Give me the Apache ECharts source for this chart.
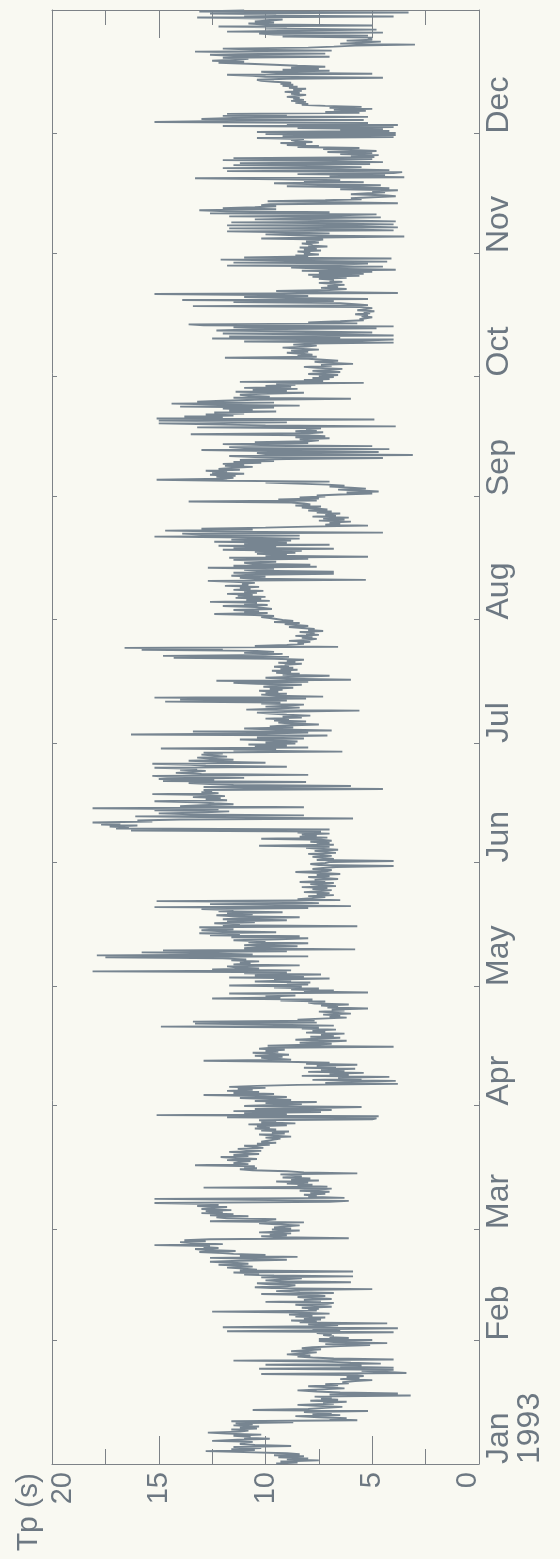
<!DOCTYPE html>
<html>
<head>
<meta charset="utf-8">
<title>Tp (s) 1993</title>
<script src="https://cdn.jsdelivr.net/npm/echarts@6/dist/echarts.min.js"></script>
<style>
  html, body { margin: 0; padding: 0; background: #f9f9f2; }
  #chart { width: 560px; height: 1559px; }
</style>
</head>
<body>
<div id="chart"></div>
<script>
// Peak wave period Tp (s), 1993, roughly 6-hourly samples grouped by month.
const monthNames = ['Jan', 'Feb', 'Mar', 'Apr', 'May', 'Jun', 'Jul', 'Aug', 'Sep', 'Oct', 'Nov', 'Dec'];
const monthStartDays = [0, 31, 59, 90, 120, 151, 181, 212, 243, 273, 304, 334, 365];
const yearLabel = '1993';
const valueAxisName = 'Tp (s)';

const jan = [9.5, 8.5, 9.3, 7.5, 9.0, 8.0, 9.4, 8.2, 9.6, 8.4,
  9.0, 11.0, 12.8, 10.5, 11.6, 10.2, 11.5, 8.8, 10.5, 11.2,
  11.0, 10.6, 12.5, 11.3, 9.8, 11.0, 10.7, 11.5, 10.2, 11.8, 12.7, 11.2,
  10.8, 11.6, 10.4, 11.2, 10.3, 11.5, 10.6, 11.4, 8.7, 11.6,
  5.7, 7.0, 6.2, 7.5, 8.6, 6.5, 7.8, 6.9, 8.2, 5.2, 10.6,
  8.0, 7.2, 6.4, 7.6, 8.5, 6.8, 7.3, 6.2, 7.9, 6.6, 7.4, 6.9, 7.7,
  3.2, 7.0, 3.8, 6.5, 7.6, 8.5, 7.4, 6.3, 7.0, 8.0, 6.6, 7.2, 6.1,
  6.4, 5.8, 5.0, 6.5, 5.6, 6.2, 5.4, 6.0, 10.2, 3.4, 4.3, 5.5, 4.0,
  10.3, 4.0, 6.5, 5.5, 10.0, 4.6, 6.0, 7.2, 11.5, 4.0, 6.8, 7.8, 8.5, 7.9,
  9.0, 8.2, 7.6, 8.8, 8.0, 7.4, 8.3, 7.8, 6.5, 5.1, 7.2, 4.3, 6.8, 7.5];

const feb = [5.0, 7.5, 6.1, 7.0, 6.8,
  7.3, 6.9, 7.6, 4.0, 11.8, 6.5, 7.8, 3.8, 12.0, 7.5, 6.6, 8.0,
  4.3, 8.4, 7.6, 8.8, 7.4, 8.2, 7.2, 8.6, 7.8, 8.9, 7.0, 8.3, 12.5, 7.6, 8.0,
  7.5, 8.3, 6.9, 7.7, 8.6, 7.1, 6.8, 10.0, 7.4, 8.2, 6.9, 7.8, 8.5, 7.2, 7.9, 10.2, 6.8,
  8.4, 9.5, 8.6, 5.0, 9.7, 10.5, 9.0, 8.6, 9.8, 10.4, 6.0, 9.3, 10.0, 9.1, 8.3, 10.2, 5.9, 9.6,
  11.0, 10.3, 11.5, 5.9, 11.2, 10.4, 11.0, 11.8, 10.6, 11.3, 12.2, 10.8, 11.5, 12.6, 11.2,
  9.0, 10.5, 12.6, 8.5, 11.2, 10.0, 11.5,
  12.0, 13.1, 11.4, 12.8, 13.3, 12.2, 12.9,
  12.6, 15.2, 12.0, 13.5, 14.0, 12.8, 13.8,
  12.6, 6.1, 9.4, 10.2, 9.0, 9.8, 8.8, 10.3, 9.2, 8.4, 9.7];

const mar = [8.8, 9.6, 9.0, 8.4, 9.5, 10.3, 8.2, 12.6, 10.0,
  9.5, 11.8, 12.3, 10.8, 12.6, 11.5, 13.0, 12.0, 12.8, 11.6, 13.0, 12.4, 11.8, 13.2, 12.2,
  12.5, 15.2, 7.0, 6.1, 11.0, 15.2, 6.3, 8.0,
  7.6, 8.2, 7.2, 7.9, 7.0, 8.4, 7.5, 6.9,
  12.9, 7.1, 8.5, 7.8, 9.0, 8.0, 9.5, 7.5, 8.8, 7.9, 9.2, 8.3,
  8.6, 9.3, 5.7, 8.2, 9.0,
  10.6, 11.2, 10.4, 11.0, 10.5, 13.3, 10.8, 11.5,
  11.2, 10.7, 11.8, 10.4, 11.4, 12.1, 10.8, 11.5, 10.3, 11.0, 11.7, 10.2,
  10.9, 11.3, 10.1, 10.6, 11.0, 9.8, 10.4, 9.5, 10.2, 9.9, 9.6,
  9.3, 10.0, 8.8, 9.6, 10.3, 9.1, 9.7, 8.9, 10.2, 9.5, 10.5, 9.8,
  10.4, 9.0, 10.8, 8.6, 10.2, 9.5, 10.3, 5.0,
  4.8, 11.8, 4.7, 15.1, 9.0, 11.0, 7.4, 11.5, 6.9, 10.5, 7.8, 5.5, 11.0];

const apr = [11.0, 8.3, 10.0, 7.6, 10.5, 8.8, 9.8, 11.2, 9.0, 10.4,
  12.9, 9.6, 11.5, 10.3, 11.8, 10.6, 11.3, 10.0, 11.7, 10.4,
  8.5, 3.8, 7.2, 6.0, 3.9, 7.8, 5.5, 6.6, 4.2, 8.3, 6.1, 7.0, 5.4, 8.0, 6.3,
  7.4, 5.8, 8.2, 6.7, 7.6, 5.7, 8.1, 7.0,
  9.0, 12.9, 8.8, 9.5, 10.2, 9.2, 10.5, 8.9, 9.8, 10.6, 9.4, 10.0, 9.1, 10.3, 9.7,
  4.0, 9.9, 8.0, 6.9, 8.4, 7.3, 6.2, 8.6, 7.6, 6.5, 7.9, 6.8, 7.4, 6.3, 8.1,
  7.2, 7.8, 6.7, 8.3, 7.5,
  14.9, 6.8, 9.5, 13.3, 7.6, 13.4, 7.7, 8.5,
  7.4, 6.2, 7.0, 6.5, 7.3, 6.0, 6.8, 7.5, 6.3, 6.9, 5.2, 7.1, 6.6, 7.4, 6.1,
  7.7, 8.0, 7.2, 9.3, 7.8,
  12.5, 9.3, 10.0, 8.6, 9.4, 11.7, 5.2, 8.2, 6.8, 8.8, 7.5, 9.6, 8.3];

const may = [11.7, 8.0, 9.0, 7.9, 10.5, 8.8, 9.6,
  7.0, 11.7, 8.2, 10.5, 7.4, 11.0, 9.0,
  18.1, 8.8, 12.5, 10.3, 11.4,
  11.8, 8.4, 11.5, 10.7, 11.2, 10.3, 11.6, 10.9,
  12.0, 17.5, 8.0, 17.9, 10.6,
  12.7, 15.8, 9.0, 14.8, 5.8, 11.0, 10.3, 8.5,
  11.0, 10.2, 8.0, 10.8, 10.0, 11.5, 9.4, 8.0,
  11.6, 8.4, 12.6, 11.2, 13.1, 9.5, 12.0, 13.0, 11.5, 12.4, 13.1, 5.7, 12.0,
  11.2, 12.4, 10.5, 11.8, 9.0, 12.0, 11.0, 8.4, 11.5, 12.3, 10.6, 11.8, 9.2, 12.2, 11.5,
  13.0, 8.0, 15.2, 6.0, 9.5, 12.6, 7.5, 9.0, 15.1, 6.5, 8.5, 7.8,
  7.2, 8.0, 6.8, 7.6, 7.0, 8.2, 7.4, 6.9, 7.8, 7.1, 8.3, 6.7, 7.5, 7.9, 6.8,
  8.4, 7.2, 7.7, 6.6, 7.3, 8.0, 7.0, 7.6, 6.5, 7.4, 8.6, 7.1, 6.9, 7.8, 7.3,
  6.7, 4.0, 7.5, 7.9, 7.2];

const jun = [7.0, 4.0, 7.6, 6.8, 7.3, 7.8, 6.9, 7.4, 8.0, 6.7, 7.2, 7.7,
  6.6, 7.5, 8.1, 7.0, 10.3, 6.8, 7.6, 7.0, 7.9, 6.9, 7.4,
  10.2, 7.1, 8.4, 7.6, 8.3, 7.0, 8.5, 7.4,
  16.3, 7.0, 17.0, 16.4, 17.3, 16.0, 17.7, 16.8, 18.1, 15.3,
  16.0, 14.0, 5.9, 12.0, 16.1, 8.2, 13.5, 15.0,
  12.8, 11.7, 15.2, 12.2, 18.1, 8.2, 14.0,
  13.0, 11.5, 12.4, 13.2, 15.2, 11.8, 12.8, 12.1, 13.4, 11.9, 12.6, 15.3, 12.2, 13.0,
  12.5, 12.9, 4.5, 11.0, 12.9, 6.0, 11.5, 12.6,
  13.6, 8.1, 14.8, 12.4, 15.0, 11.0, 14.6, 15.3, 8.0, 13.0, 14.2, 13.4, 12.8, 14.0, 13.2,
  15.2, 9.0, 12.8, 13.5, 15.3, 10.0, 12.2, 13.6, 11.5, 12.6, 13.2, 11.8, 12.4, 13.0, 12.0,
  12.9, 6.4, 11.5, 9.5, 14.9, 8.0, 10.5, 9.0, 10.8, 8.6];

const jul = [10.0, 8.5, 9.6, 11.2, 8.2, 10.4, 9.2,
  7.1, 16.3, 10.0, 8.0, 13.4, 6.9, 9.5, 11.0,
  8.7, 9.8, 9.1, 7.5, 8.8, 9.4, 8.1, 9.6, 8.9, 10.0, 8.3, 9.2, 7.9, 9.0,
  9.8, 10.4, 8.6, 5.6, 10.9, 9.5, 8.4, 10.0, 9.0, 8.2, 10.2, 9.3, 14.7, 9.0,
  14.0, 8.1, 15.2, 7.3, 9.5, 10.2, 9.0,
  10.0, 9.4, 10.3, 9.2, 9.8, 8.7, 10.1, 9.5, 8.3, 10.4,
  11.5, 8.0, 12.3, 6.0, 9.0, 10.0, 8.6,
  7.0, 9.2, 8.4, 9.5, 8.8, 9.7, 8.5, 9.3, 8.7, 9.6, 8.9, 9.1, 8.3, 9.4, 8.6, 9.0, 8.2, 9.6,
  14.3, 8.9, 14.8, 10.0, 9.2, 11.0, 9.6, 10.4,
  15.8, 12.0, 16.6, 6.6, 10.5, 9.0, 8.2,
  8.5, 7.9, 8.9, 8.0, 7.6, 8.3, 7.8, 8.6, 7.5, 8.1, 7.7, 8.4, 7.3, 8.0, 7.7,
  8.3, 8.9, 8.0, 8.6, 9.1, 8.4, 9.6, 8.7, 9.2];

const aug = [9.5, 9.8, 10.2, 9.6, 10.5, 12.4, 9.9, 11.0, 10.3, 11.5, 9.7, 10.1,
  10.5, 12.0, 9.9, 11.0, 10.4, 12.6, 9.8, 10.9, 10.2, 11.4,
  10.0, 11.3, 10.6, 11.8, 10.4, 11.0, 10.1, 11.5, 10.7, 11.2, 10.3, 11.9, 10.8, 11.1, 10.5,
  11.5, 12.7, 5.3, 10.5, 11.2, 10.0, 11.6,
  10.7, 6.8, 11.5, 6.8, 10.4, 11.0, 9.6,
  12.7, 7.6, 11.5, 7.9, 10.6, 11.0, 9.5, 10.2,
  11.5, 8.0, 11.7, 5.2, 10.0, 9.0, 10.4, 8.6,
  10.5, 8.3, 12.0, 6.8, 11.5, 9.5, 12.2, 7.0, 11.0, 9.0, 12.4, 8.8, 11.6, 8.4, 10.8,
  15.2, 8.4, 13.0, 13.9, 4.5, 12.0, 14.7, 10.6, 13.0, 10.0, 8.0,
  5.2, 7.2, 6.5, 7.0, 6.0, 7.5, 6.3, 7.3, 6.1, 7.8, 6.7, 7.2, 6.5, 7.6, 6.9,
  8.0, 7.1, 7.7, 8.3, 7.4, 8.6, 7.9, 8.2,
  8.8, 13.6, 7.6, 9.4, 7.5, 8.4, 7.2];

const sep = [7.6, 6.5, 5.0, 6.2, 4.7, 5.6, 6.6, 5.3, 6.0, 7.0, 6.3, 7.1, 8.5,
  10.0, 7.0, 11.8, 15.1, 12.0, 11.5, 12.3,
  11.4, 12.6, 11.0, 12.5, 11.8, 12.8, 11.2, 12.2, 11.6, 10.6, 11.9, 11.0, 12.0, 10.2, 11.5, 9.6, 11.2,
  9.0, 4.5, 10.5, 11.7, 3.1, 10.0, 10.4, 4.7, 9.8, 13.0, 4.2, 11.0, 11.7, 5.0, 10.2, 12.0, 8.0, 10.5,
  8.0, 7.5, 8.4, 7.0, 8.6, 7.2, 8.2, 13.5, 8.0, 7.3, 8.6, 7.6, 8.1, 7.4,
  13.2, 3.9, 10.0, 12.6, 15.0, 9.0, 11.5,
  15.0, 4.9, 15.1, 12.0, 13.8, 11.5, 12.8,
  11.0, 12.4, 9.5, 11.7, 10.6, 12.0, 9.6, 14.0, 8.4, 12.2,
  14.4, 9.6, 13.2, 12.0, 10.5, 6.0, 11.5, 9.8, 10.8, 11.2,
  10.2, 8.2, 11.4, 9.0, 10.6, 8.5, 11.0, 8.8, 10.0, 8.6, 9.5, 5.4, 11.2,
  7.3, 8.2, 7.0, 7.8, 6.8];

const oct = [7.5, 6.6, 8.0, 7.2, 6.5, 7.8, 7.0, 6.4, 7.6, 8.2, 6.9, 7.4, 5.9, 7.1, 7.7, 6.6, 7.3, 8.0,
  11.9, 7.6, 8.5, 7.8, 8.3,
  9.0, 8.0, 8.8, 7.5, 8.5, 9.2, 8.1, 7.6, 8.7, 8.0,
  4.0, 11.0, 5.5, 4.0, 12.5, 6.5, 11.7, 4.0, 7.0, 12.0, 5.0, 8.0, 12.3, 10.6, 4.8,
  11.5, 4.0, 12.9, 13.6, 5.7, 8.0, 6.5, 5.4,
  5.6, 5.3, 5.0, 5.5, 5.2, 5.8, 5.1, 5.4, 4.9, 5.7, 5.3, 5.0, 5.5, 13.4, 5.2, 5.8, 6.5,
  11.5, 6.8, 13.9, 5.2, 9.0, 11.0, 8.0, 10.2, 15.2, 3.8, 7.5, 9.5,
  7.0, 6.2, 7.4, 6.6, 7.1, 6.3, 6.9, 7.5, 6.4, 7.0,
  6.8, 7.5, 6.2, 7.8, 5.6, 8.0, 5.4,
  7.5, 5.0, 8.3, 3.9, 7.0, 8.8, 4.5, 11.8, 6.5, 5.2,
  11.5, 4.3, 9.0, 12.1, 4.1, 11.0, 8.0, 8.6, 7.5, 8.2];

const nov = [7.9, 8.5, 7.4, 8.2, 7.6, 8.4, 7.1, 8.0, 7.8, 8.3, 7.5, 8.1, 7.7,
  7.3, 10.2, 7.5, 3.5, 8.5, 10.0, 7.0, 9.0,
  11.8, 4.0, 6.0, 11.7, 3.8, 5.5, 11.8, 4.0, 7.0, 11.6, 3.9, 6.2, 10.5, 8.0,
  4.6, 11.7, 6.5, 4.8, 12.6, 7.0, 11.8, 13.1, 9.5, 12.0, 10.5, 9.5, 10.2,
  9.8, 3.8, 6.5, 9.9, 7.2, 5.5, 6.0, 5.0,
  3.9, 4.5, 6.0, 5.2, 4.4, 5.0, 3.8, 6.5, 4.2, 5.8, 9.0, 4.6, 7.5, 9.6, 5.4, 8.2, 6.5, 9.4,
  13.3, 3.5, 7.0, 4.4, 8.5, 4.0, 3.6, 11.8, 4.2, 6.5, 12.0, 5.5, 8.0, 11.5, 5.1,
  11.2, 4.5, 6.7, 12.0, 5.0, 11.5, 4.9, 6.0,
  4.7, 6.5, 5.0, 7.1, 4.8, 6.0, 7.3, 5.6,
  8.5, 7.5, 9.0, 8.1, 9.3, 7.8, 8.6,
  8.8, 8.2, 10.4, 4.0, 9.2, 3.9, 10.0];

const dec = [3.9, 10.4, 4.2, 6.5, 4.5, 8.5, 4.0, 12.0, 3.8, 9.0,
  5.2, 15.2, 12.0, 5.4, 13.0, 11.5, 5.2, 12.0, 9.0, 11.8,
  5.6, 7.2, 5.3, 6.8, 5.0, 7.0, 5.5, 7.2,
  8.3, 8.0, 8.6, 8.1, 8.8, 8.2, 8.7, 8.4, 9.0, 8.5, 8.1, 8.8, 8.4, 9.1, 8.3, 8.7,
  8.1, 8.9, 8.5, 9.2, 8.7, 9.3, 8.8, 9.6, 10.2,
  10.4, 9.0, 4.5, 10.0, 10.6, 11.8, 5.0, 9.5, 10.2, 7.0, 9.2, 7.5, 8.8, 7.2, 8.5, 9.6, 10.8,
  12.2, 11.0, 12.5, 11.4, 10.8, 12.0, 7.0, 11.5, 12.6, 7.2, 11.3, 13.3, 6.9, 10.5, 12.0,
  8.0, 6.8, 5.8, 3.0, 6.5, 5.5, 4.6, 6.2, 5.0, 5.2,
  5.0, 9.2, 5.2, 9.6, 10.3, 4.5, 11.8, 8.5, 4.8, 10.0, 9.0, 12.2, 5.0, 10.0, 10.8, 9.6, 10.5, 9.8,
  9.2, 10.0, 13.2, 4.0, 11.0, 9.5, 12.6, 3.3, 13.1, 11.0];

const monthlySeries = [jan, feb, mar, apr, may, jun, jul, aug, sep, oct, nov, dec];

// Each month's samples are spread evenly over that month (time in days since 1 Jan).
const points = [];
monthlySeries.forEach((values, m) => {
  const start = monthStartDays[m];
  const span = monthStartDays[m + 1] - start;
  values.forEach((v, i) => points.push([v, start + (i + 0.5) * span / values.length]));
});

const AXIS_COLOR = '#7d8287';
const TEXT_COLOR = '#6d7882';
const LINE_COLOR = '#778591';
const FONT = "'Liberation Sans', Arial, Helvetica, sans-serif";
const monthTicks = monthStartDays.slice(0, 12);

// Tp axis runs across the page (0 on the right); drawn twice to close the frame.
function valueAxis(position, withLabels) {
  return {
    type: 'value',
    position: position,
    min: 0,
    max: 20,
    interval: 5,
    inverse: true,
    axisLine: { show: true, onZero: false, lineStyle: { color: AXIS_COLOR, width: 1 } },
    axisTick: { show: true, inside: true, length: 28, lineStyle: { color: AXIS_COLOR, width: 1 } },
    minorTick: { show: true, splitNumber: 2, length: 15, lineStyle: { color: AXIS_COLOR, width: 1 } },
    splitLine: { show: false },
    minorSplitLine: { show: false },
    axisLabel: {
      show: withLabels,
      rotate: 90,
      margin: 8,
      fontSize: 29,
      fontFamily: FONT,
      color: TEXT_COLOR,
      formatter: function (v) {
        if (v === 0) return '{lo|0}';
        if (v === 20) return '{hi|20}';
        return String(v);
      },
      rich: {
        lo: { fontSize: 29, fontFamily: FONT, color: TEXT_COLOR, padding: [0, 0, 22, 0] },
        hi: { fontSize: 29, fontFamily: FONT, color: TEXT_COLOR, padding: [22, 0, 0, 0] }
      }
    }
  };
}

// Time axis (days of 1993) runs up the page, ticked at the first of each month.
function timeAxis(position, withLabels) {
  return {
    type: 'value',
    position: position,
    min: 0,
    max: 365,
    axisLine: { show: true, onZero: false, lineStyle: { color: AXIS_COLOR, width: 1 } },
    axisTick: { show: true, inside: true, length: 5, customValues: monthTicks, lineStyle: { color: AXIS_COLOR, width: 1 } },
    splitLine: { show: false },
    axisLabel: {
      show: withLabels,
      customValues: monthTicks,
      rotate: 90,
      align: 'left',
      verticalAlign: 'top',
      margin: 5,
      fontSize: 32,
      lineHeight: 31,
      fontFamily: FONT,
      color: TEXT_COLOR,
      formatter: function (v) {
        const m = monthStartDays.indexOf(Math.round(v));
        if (m === 0) return monthNames[0] + '\n' + yearLabel;
        return m >= 0 ? monthNames[m] : '';
      }
    }
  };
}

const chart = echarts.init(document.getElementById('chart'), null, { renderer: 'canvas' });
chart.setOption({
  backgroundColor: '#f9f9f2',
  animation: false,
  grid: { left: 52, right: 81, top: 10, bottom: 95, containLabel: false, outerBoundsMode: 'none' },
  xAxis: [valueAxis('bottom', true), valueAxis('top', false)],
  yAxis: [timeAxis('right', true), timeAxis('left', false)],
  graphic: [{
    type: 'text',
    x: 29,
    y: 1473,
    rotation: Math.PI / 2,
    style: {
      text: valueAxisName,
      font: '30px ' + FONT,
      fill: TEXT_COLOR,
      align: 'right',
      verticalAlign: 'middle'
    }
  }],
  series: [{
    type: 'line',
    xAxisIndex: 0,
    yAxisIndex: 0,
    data: points,
    showSymbol: false,
    symbol: 'none',
    clip: true,
    lineStyle: { color: LINE_COLOR, width: 1.9 },
    emphasis: { disabled: true }
  }]
});
</script>
</body>
</html>
